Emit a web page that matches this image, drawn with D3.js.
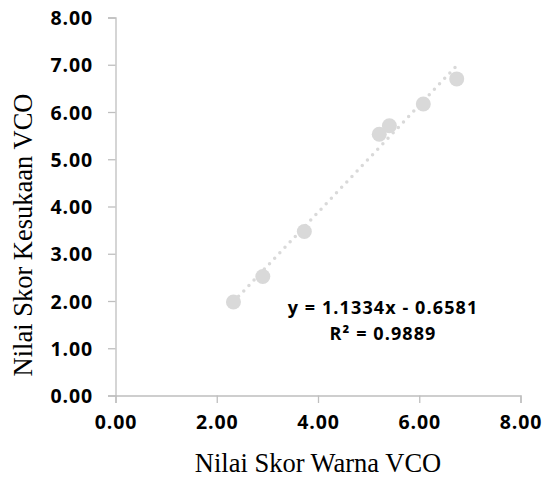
<!DOCTYPE html>
<html>
<head>
<meta charset="utf-8">
<script src="https://cdn.jsdelivr.net/npm/d3@7"></script>
<style>
  html, body { margin: 0; padding: 0; background: #fff; }
  svg { display: block; }
</style>
</head>
<body>
<svg id="chart" width="545" height="479"></svg>
<script>
// ---- data ----
const xValues = [2.33, 2.91, 3.73, 5.21, 5.41, 6.08, 6.74];
const yValues = [1.98, 2.52, 3.47, 5.53, 5.71, 6.17, 6.70];
const xTicks = [0, 2, 4, 6, 8];
const yTicks = [0, 1, 2, 3, 4, 5, 6, 7, 8];
const trendSlope = 1.1334;
const trendIntercept = -0.6581;
const equationLines = ["y = 1.1334x - 0.6581", "R\u00B2 = 0.9889"];
const xTitle = "Nilai Skor Warna VCO";
const yTitle = "Nilai Skor Kesukaan VCO";

(function () {
  const svg = d3.select("#chart");
  const pLeft = 115.5, pRight = 520.5, pTop = 17.5, pBottom = 395.5;
  const x = d3.scaleLinear().domain([0, 8]).range([pLeft, pRight]);
  const y = d3.scaleLinear().domain([0, 8]).range([pBottom, pTop]);
  const axisColor = "#bfbfbf";
  const markColor = "#d9d9d9";
  const tickFont = "'Open Sans', sans-serif";

  // y axis
  const yAxis = svg.append("g")
    .attr("transform", `translate(${pLeft},0)`)
    .call(d3.axisLeft(y).tickValues(yTicks).tickSize(7.5).tickPadding(15).tickFormat(d3.format(".2f")));
  yAxis.select(".domain").attr("stroke", axisColor).attr("stroke-width", 1.3);
  yAxis.selectAll(".tick line").attr("stroke", axisColor).attr("stroke-width", 1.3);
  yAxis.selectAll(".tick text")
    .attr("font-family", tickFont).attr("font-weight", 700).attr("font-size", 19.5)
    .attr("letter-spacing", 0.9).attr("fill", "#000").attr("dy", "0.36em");

  // x axis
  const xAxis = svg.append("g")
    .attr("transform", `translate(0,${pBottom})`)
    .call(d3.axisBottom(x).tickValues(xTicks).tickSize(7.5).tickPadding(12).tickFormat(d3.format(".2f")));
  xAxis.select(".domain").attr("stroke", axisColor).attr("stroke-width", 1.3);
  xAxis.selectAll(".tick line").attr("stroke", axisColor).attr("stroke-width", 1.3);
  xAxis.selectAll(".tick text")
    .attr("font-family", tickFont).attr("font-weight", 700).attr("font-size", 19.5)
    .attr("letter-spacing", 0.9).attr("fill", "#000");

  // trendline
  const xMin = d3.min(xValues), xMax = d3.max(xValues);
  svg.append("line")
    .attr("x1", x(xMin)).attr("y1", y(trendSlope * xMin + trendIntercept))
    .attr("x2", x(xMax)).attr("y2", y(trendSlope * xMax + trendIntercept))
    .attr("stroke", markColor).attr("stroke-width", 3.5)
    .attr("stroke-linecap", "round").attr("stroke-dasharray", "0 7.5");

  // points
  svg.append("g").selectAll("circle")
    .data(xValues.map((v, i) => [v, yValues[i]]))
    .join("circle")
    .attr("cx", d => x(d[0])).attr("cy", d => y(d[1]))
    .attr("r", 7.5).attr("fill", markColor);

  // equation
  const eq = svg.append("text")
    .attr("font-family", tickFont).attr("font-weight", 700).attr("font-size", 18)
    .attr("letter-spacing", 1.1).attr("fill", "#000").attr("text-anchor", "middle");
  eq.selectAll("tspan").data(equationLines).join("tspan")
    .attr("x", 383).attr("y", (d, i) => 314 + i * 26).text(d => d);

  // axis titles
  svg.append("text")
    .attr("x", 318).attr("y", 472)
    .attr("text-anchor", "middle")
    .attr("font-family", "'Liberation Serif', 'Times New Roman', serif")
    .attr("font-size", 26.5).attr("fill", "#000")
    .text(xTitle);

  svg.append("text")
    .attr("transform", "translate(31.5,235) rotate(-90)")
    .attr("text-anchor", "middle")
    .attr("font-family", "'Liberation Serif', 'Times New Roman', serif")
    .attr("font-size", 26.5).attr("fill", "#000")
    .text(yTitle);
})();
</script>
</body>
</html>
